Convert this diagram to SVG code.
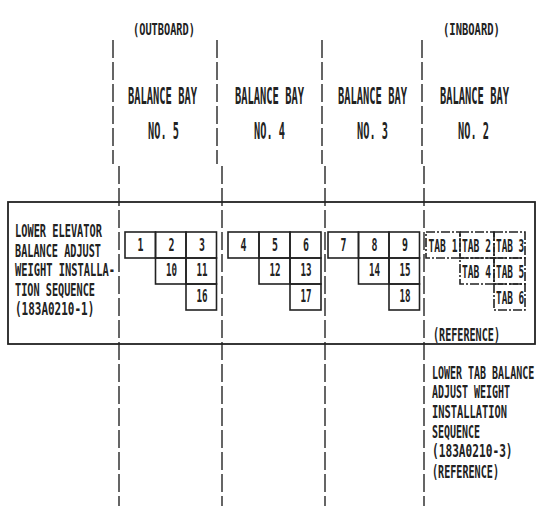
<svg xmlns="http://www.w3.org/2000/svg" width="540" height="506" viewBox="0 0 540 506">
<style>
.t{font-family:"DejaVu Sans Mono","Liberation Mono",monospace;fill:#222;font-weight:bold;}
.s{font-size:18px;}
.h{font-size:23px;}
.p{font-size:16px;}
.m{text-anchor:middle;}
.c{fill:none;stroke:#222;stroke-width:1.6;}
.tab{fill:none;stroke:#222;stroke-width:1.6;stroke-dasharray:9 2 2 2;}
.v{fill:none;stroke:#333;stroke-width:1.5;stroke-dasharray:18 4;}
.f{fill:none;stroke:#222;stroke-width:1.8;}
</style>
<rect width="540" height="506" fill="#fff"/>

<g id="headers">
<text class="t p" transform="matrix(0.644 0 0 1 133 35)">(OUTBOARD)</text>
<text class="t p" transform="matrix(0.657 0 0 1 443 35)">(INBOARD)</text>
</g>
<g id="bay5-head">
<text class="t h" transform="matrix(0.453 0 0 1 128 104)">BALANCE BAY</text>
<text class="t h" transform="matrix(0.448 0 0 1 148 139)">NO. 5</text>
</g>
<g id="bay4-head">
<text class="t h" transform="matrix(0.453 0 0 1 235 104)">BALANCE BAY</text>
<text class="t h" transform="matrix(0.448 0 0 1 254 139)">NO. 4</text>
</g>
<g id="bay3-head">
<text class="t h" transform="matrix(0.453 0 0 1 338 104)">BALANCE BAY</text>
<text class="t h" transform="matrix(0.448 0 0 1 357 139)">NO. 3</text>
</g>
<g id="bay2-head">
<text class="t h" transform="matrix(0.453 0 0 1 440 104)">BALANCE BAY</text>
<text class="t h" transform="matrix(0.448 0 0 1 458 139)">NO. 2</text>
</g>

<g id="connectors">
<path class="v" d="M113,40 V164"/>
<path class="v" d="M119,166 V506"/>
<path class="v" d="M217,40 V164"/>
<path class="v" d="M222,166 V506"/>
<path class="v" d="M322,40 V164"/>
<path class="v" d="M325,166 V506"/>
<path class="v" d="M422,40 V164"/>
<path class="v" d="M424,166 V506"/>
</g>

<g id="frame">
<rect class="f" x="8" y="202" width="527" height="142"/>
</g>

<g id="left-label">
<text class="t s" transform="matrix(0.574 0 0 1 15 237)">LOWER ELEVATOR</text>
<text class="t s" transform="matrix(0.567 0 0 1 15 257)">BALANCE ADJUST</text>
<text class="t s" transform="matrix(0.577 0 0 1 15 276)">WEIGHT INSTALLA-</text>
<text class="t s" transform="matrix(0.568 0 0 1 15 296)">TION SEQUENCE</text>
<text class="t s" transform="matrix(0.61 0 0 1 15 315)">(183A0210-1)</text>
</g>

<g id="bay5-cells">
<g id="cell-1"><rect class="c" x="125" y="232" width="30.5" height="26"/><text class="t s m" transform="matrix(0.55 0 0 1 140.5 251)">1</text></g>
<g id="cell-2"><rect class="c" x="155.5" y="232" width="30.5" height="26"/><text class="t s m" transform="matrix(0.55 0 0 1 171.5 251)">2</text></g>
<g id="cell-3"><rect class="c" x="186" y="232" width="30.5" height="26"/><text class="t s m" transform="matrix(0.55 0 0 1 202 251)">3</text></g>
<g id="cell-10"><rect class="c" x="155.5" y="258" width="30.5" height="26"/><text class="t s m" transform="matrix(0.51 0 0 1 171.5 276)">10</text></g>
<g id="cell-11"><rect class="c" x="186" y="258" width="30.5" height="26"/><text class="t s m" transform="matrix(0.51 0 0 1 202 276)">11</text></g>
<g id="cell-16"><rect class="c" x="186" y="284" width="30.5" height="26"/><text class="t s m" transform="matrix(0.51 0 0 1 202 302)">16</text></g>
</g>

<g id="bay4-cells">
<g id="cell-4"><rect class="c" x="228" y="232" width="31" height="26"/><text class="t s m" transform="matrix(0.55 0 0 1 243.5 251)">4</text></g>
<g id="cell-5"><rect class="c" x="259" y="232" width="31" height="26"/><text class="t s m" transform="matrix(0.55 0 0 1 275 251)">5</text></g>
<g id="cell-6"><rect class="c" x="290" y="232" width="31" height="26"/><text class="t s m" transform="matrix(0.55 0 0 1 306 251)">6</text></g>
<g id="cell-12"><rect class="c" x="259" y="258" width="31" height="26"/><text class="t s m" transform="matrix(0.51 0 0 1 275 276)">12</text></g>
<g id="cell-13"><rect class="c" x="290" y="258" width="31" height="26"/><text class="t s m" transform="matrix(0.51 0 0 1 306 276)">13</text></g>
<g id="cell-17"><rect class="c" x="290" y="284" width="31" height="26"/><text class="t s m" transform="matrix(0.51 0 0 1 306 302)">17</text></g>
</g>

<g id="bay3-cells">
<g id="cell-7"><rect class="c" x="328" y="232" width="30.5" height="26"/><text class="t s m" transform="matrix(0.55 0 0 1 343.5 251)">7</text></g>
<g id="cell-8"><rect class="c" x="358.5" y="232" width="30.5" height="26"/><text class="t s m" transform="matrix(0.55 0 0 1 374.5 251)">8</text></g>
<g id="cell-9"><rect class="c" x="389" y="232" width="30.5" height="26"/><text class="t s m" transform="matrix(0.55 0 0 1 405 251)">9</text></g>
<g id="cell-14"><rect class="c" x="358.5" y="258" width="30.5" height="26"/><text class="t s m" transform="matrix(0.51 0 0 1 374.5 276)">14</text></g>
<g id="cell-15"><rect class="c" x="389" y="258" width="30.5" height="26"/><text class="t s m" transform="matrix(0.51 0 0 1 405 276)">15</text></g>
<g id="cell-18"><rect class="c" x="389" y="284" width="30.5" height="26"/><text class="t s m" transform="matrix(0.51 0 0 1 405 302)">18</text></g>
</g>

<g id="bay2-tabs">
<g id="tab-1"><rect class="tab" x="426" y="232" width="34" height="26"/><text class="t s" transform="matrix(0.535 0 0 1 428.5 252)">TAB 1</text></g>
<g id="tab-2"><rect class="tab" x="460" y="232" width="34" height="26"/><text class="t s" transform="matrix(0.535 0 0 1 462 252)">TAB 2</text></g>
<g id="tab-3"><rect class="tab" x="494" y="232" width="31" height="26"/><text class="t s" transform="matrix(0.52 0 0 1 496 252)">TAB 3</text></g>
<g id="tab-4"><rect class="tab" x="460" y="258" width="34" height="26"/><text class="t s" transform="matrix(0.535 0 0 1 462 278)">TAB 4</text></g>
<g id="tab-5"><rect class="tab" x="494" y="258" width="31" height="26"/><text class="t s" transform="matrix(0.52 0 0 1 496 278)">TAB 5</text></g>
<g id="tab-6"><rect class="tab" x="494" y="284" width="31" height="26"/><text class="t s" transform="matrix(0.52 0 0 1 496 304)">TAB 6</text></g>
<text class="t s" transform="matrix(0.562 0 0 1 433 341)">(REFERENCE)</text>
</g>

<g id="right-label">
<text class="t s" transform="matrix(0.555 0 0 1 432 379)">LOWER TAB BALANCE</text>
<text class="t s" transform="matrix(0.554 0 0 1 432 398)">ADJUST WEIGHT</text>
<text class="t s" transform="matrix(0.577 0 0 1 432 418)">INSTALLATION</text>
<text class="t s" transform="matrix(0.554 0 0 1 432 438)">SEQUENCE</text>
<text class="t s" transform="matrix(0.62 0 0 1 432 457)">(183A0210-3)</text>
<text class="t s" transform="matrix(0.562 0 0 1 432 478)">(REFERENCE)</text>
</g>
</svg>
